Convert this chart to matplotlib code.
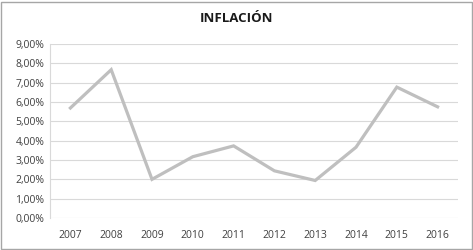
import matplotlib
matplotlib.use("Agg")
import matplotlib.pyplot as plt
from matplotlib.ticker import FuncFormatter
from matplotlib.patches import Rectangle

years = ["2007", "2008", "2009", "2010", "2011", "2012", "2013", "2014", "2015", "2016"]
inflation = [5.69, 7.67, 2.00, 3.17, 3.73, 2.44, 1.94, 3.66, 6.77, 5.75]
title = "INFLACIÓN"

plt.rcParams['font.family'] = ['Open Sans', 'DejaVu Sans']

fig = plt.figure(figsize=(4.73, 2.5), dpi=100)
ax = fig.add_axes([50/473, 1 - 218/250, (458-50)/473, (218-44)/250])

x = list(range(len(years)))
ax.plot(x, inflation, color="#BFBFBF", linewidth=2.3, solid_joinstyle="miter")
ax.set_xlim(-0.5, len(years) - 0.5)
ax.set_ylim(0, 9)
ax.set_yticks([i for i in range(10)])
ax.yaxis.set_major_formatter(FuncFormatter(lambda v, p: f"{v:.2f}".replace(".", ",") + "%"))
ax.set_xticks(x)
ax.set_xticklabels(years)
ax.grid(axis="y", color="#D9D9D9", linewidth=0.8)
ax.set_axisbelow(True)
for s in ["top", "right", "bottom"]:
    ax.spines[s].set_visible(False)
ax.spines["left"].set_color("#D9D9D9")
ax.spines["left"].set_linewidth(0.8)
ax.tick_params(length=0, labelsize=7.5, colors="#404040", pad=4)
ax.tick_params(axis="x", pad=9)

fig.text(236/473, 1 - 18/250, title, ha="center", va="center", fontsize=9.5,
         fontweight="bold", color="#1a1a1a")
fig.patches.append(Rectangle((0.002, 0.004), 0.995, 0.99, transform=fig.transFigure,
                             fill=False, edgecolor="#A6A6A6", linewidth=1))
fig.savefig("out.png", dpi=100)
